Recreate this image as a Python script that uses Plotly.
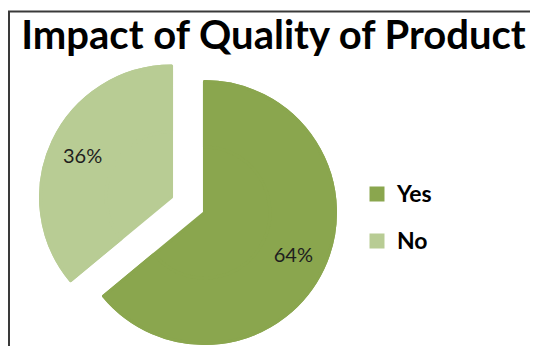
import plotly.graph_objects as go

# Data
labels = ["Yes", "No"]
values = [64, 36]
colors = ["#8AA64E", "#B8CC94"]
title_text = "Impact of Quality of Product"

W, H = 538, 346
OFF = 8  # page offset of the figure (body margin)

pull = 0.1389
dom_x = [30.8 / W, 329.2 / W]
dom_y = [0, 1 - 47.6 / H]

fig = go.Figure()
# full pie (base layer)
fig.add_trace(go.Pie(
    labels=labels, values=values, sort=False,
    direction="clockwise", rotation=0, pull=[pull, pull],
    marker=dict(colors=colors, line=dict(color=colors, width=3)),
    textinfo="none", showlegend=False, hoverinfo="skip",
    domain=dict(x=dom_x, y=dom_y),
))
# label layer (same slices, ring) carrying the percentages and legend
fig.add_trace(go.Pie(
    labels=[f'<span style="font-size:23px;baseline-shift:5px">{l}</span>' for l in labels],
    values=values, sort=False,
    direction="clockwise", rotation=0, pull=[pull, pull], hole=0.5,
    marker=dict(colors=colors, line=dict(color=colors, width=3)),
    textinfo="percent", texttemplate="%{percent:.0%}",
    textposition="inside", insidetextorientation="horizontal",
    textfont=dict(family="Lato", size=20, color="#1e1e1e"),
    hoverinfo="label+percent",
    domain=dict(x=dom_x, y=dom_y),
))

fig.update_layout(
    width=W, height=H,
    margin=dict(l=0, r=0, t=0, b=0),
    paper_bgcolor="white",
    plot_bgcolor="white",
    title=dict(
        text=title_text,
        font=dict(family="Lato", size=40, color="#000000", weight="bold"),
        x=(273.5 - OFF) / W, xanchor="center", xref="container",
        y=1 - (35 - OFF) / H, yanchor="middle", yref="container",
    ),
    legend=dict(
        x=(380 - OFF - 20) / W, xanchor="left",
        y=1 - (194 - OFF - 28.5) / H, yanchor="top",
        font=dict(family="Lato", size=33.8, color="#000000", weight="bold"),
        bgcolor="rgba(0,0,0,0)", borderwidth=0, indentation=-3,
    ),
    shapes=[dict(
        type="rect", xref="paper", yref="paper",
        x0=1 / W, y0=1 - 3.5 / H, x1=1.2, y1=-0.2,
        line=dict(color="#3a3a3a", width=2), fillcolor="rgba(0,0,0,0)",
    )],
)

fig.write_html("out.html")
